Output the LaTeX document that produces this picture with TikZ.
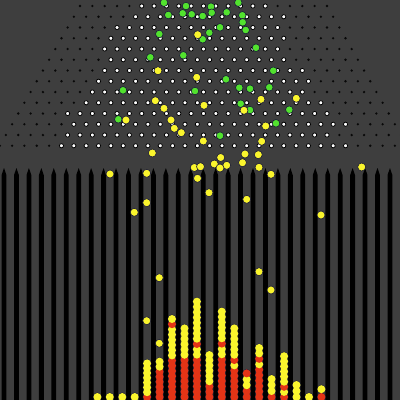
\documentclass[tikz,border=0pt]{standalone}
\usepackage{tikz}
\definecolor{boardgray}{RGB}{62,62,62}
\definecolor{pegdark}{RGB}{8,8,8}
\definecolor{bally}{RGB}{250,245,45}
\definecolor{ballg}{RGB}{82,226,46}
\definecolor{ballr}{RGB}{228,52,22}
\definecolor{ballrim}{RGB}{25,25,55}
\tikzset{
  peg/.style={fill=pegdark},
  litpeg/.style={fill=white, draw=black, line width=0.8pt},
  divider/.style={fill=black},
  ball/.style={draw=ballrim, line width=0.6pt}
}
\newcommand{\binstack}[3]{%
  \foreach \bc [count=\bi from 0] in {#3}
    \fill[ballrim] (#1,{397-\bi*#2}) circle (4.4pt);
  \foreach \bc [count=\bi from 0] in {#3}
    \fill[fill=ball\bc] (#1,{397-\bi*#2}) circle (4pt);}

\begin{document}
\begin{tikzpicture}[x=1pt, y=-1pt]
  \useasboundingbox (0,0) rectangle (400,400);
  \clip (0,0) rectangle (400,400);
  \fill[boardgray] (0,0) rectangle (400,400);
  % pegs, lit ones between kl and kr
  \foreach \r/\kl/\kr in {0/5/15, 1/5/17, 2/4/17, 3/4/18, 4/4/18, 5/5/19, 6/5/21,
      7/5/22, 8/5/22, 9/5/24, 10/4/25, 11/5/27, 12/5/26, 13/5/28} {
    \pgfmathtruncatemacro{\kmax}{20+\r}
    \pgfmathsetmacro{\py}{6+10.75*\r}
    \foreach \k in {0,...,\kmax} {
      \pgfmathsetmacro{\px}{80-6.175*\r+12.35*\k}
      \ifnum\k<\kl\relax \fill[peg] (\px,\py) circle (1.3pt);
      \else\ifnum\k>\kr\relax \fill[peg] (\px,\py) circle (1.3pt);
      \else \filldraw[litpeg] (\px,\py) circle (2.1pt);
      \fi\fi
    }
  }
  % bin walls
  \foreach \j in {0,...,31} {
    \pgfmathsetmacro{\bx}{4+12.45*\j}
    \fill[divider] (\bx-2.4,400) -- (\bx-2.4,175) -- (\bx,168) -- (\bx+2.4,175) -- (\bx+2.4,400) -- cycle;
  }
  % settled balls
  \binstack{97.4}{5}{y}
  \binstack{109.8}{5}{y}
  \binstack{122.3}{5}{y}
  \binstack{134.7}{5}{y}
  \binstack{147.1}{4.8}{r,y,y,y,y,y,y,y}
  \binstack{159.6}{5.05}{r,r,r,r,r,r,y,y}
  \binstack{172.0}{5.2}{r,r,r,r,r,r,r,r,y,y,y,y,y,y,r,y}
  \binstack{184.5}{5.28}{r,r,r,r,r,r,r,r,y,y,y,y,y,y}
  \binstack{196.9}{5.3}{r,r,r,r,r,r,r,r,y,y,r,y,y,y,y,y,y,y,y}
  \binstack{209.4}{5.25}{r,r,r,y,y,y,y,y,y}
  \binstack{221.8}{5.34}{r,r,r,r,r,r,r,r,y,y,r,y,y,y,y,y,y}
  \binstack{234.3}{5.28}{r,r,r,r,r,r,y,r,y,y,y,y,y,y}
  \binstack{246.7}{5.9}{r,r,y,y,r}
  \binstack{259.2}{5.45}{r,r,r,r,r,r,y,r,y,y}
  \binstack{271.6}{6}{r,y,y,y}
  \binstack{284.1}{5.1}{r,y,r,y,y,y,y,y,y}
  \binstack{296.5}{6}{y,y,y}
  \binstack{309.0}{5}{y}
  \binstack{321.4}{7.8}{r,y}
  % falling balls
  \foreach \gx/\gy in {164/2.7, 186/6, 168.3/15, 182.7/13.3, 191.7/14.3, 159.3/34,
      183.3/55.3, 150.3/57.3, 123/90.3, 195/91, 118.3/119.3, 238.3/2.7, 211/6.7,
      202.7/16, 211.7/12.7, 226.7/12.3, 242.3/15.3, 242.7/22.3, 220/27.3, 245.7/30,
      209.3/32.7, 202.7/39.3, 256/47.7, 273.3/70.7, 226/79.3, 239.3/87.7, 250/88.7,
      269.3/87.3, 240.7/103.7, 250/110, 289.3/109.7, 276/123.3, 220/135.7}
    \draw[ball, fill=ballg] (\gx,\gy) circle (3.8pt);
  \foreach \yx/\yy in {197.7/34.7, 158/70.7, 196.7/77.3, 155.3/100.7, 164/108.3,
      126/120, 171/120, 174.3/128.3, 181.3/132.7, 152.3/153, 194.3/167.5, 200.5/166.7,
      197.5/178.3, 261/99.3, 296.3/98.3, 204/105.3, 244/110.3, 265.7/126, 203.3/141,
      261.7/141.3, 245/154, 258.3/154.7, 220.7/157.5, 214.3/164, 226.7/165.3, 220/168,
      242.5/162.7, 259/167.3, 361.7/167, 110/174, 146.7/173.3, 146.7/202.7, 134.3/212.3,
      159.3/277.7, 209/192.7, 246.7/199.3, 271/174.3, 321/215, 259/271.7, 146.7/320.7,
      159.3/343.3, 271/290}
    \draw[ball, fill=bally] (\yx,\yy) circle (4pt);
\end{tikzpicture}
\end{document}
